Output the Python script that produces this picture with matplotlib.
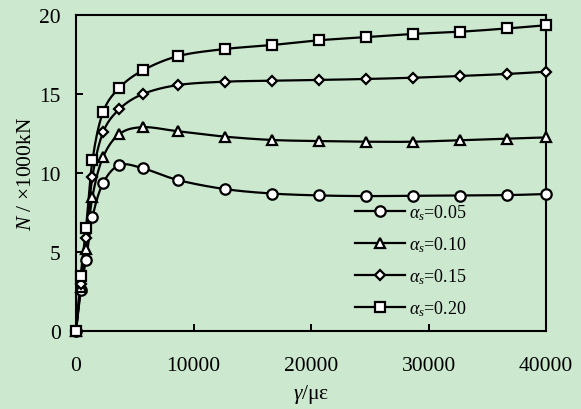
import numpy as np
import matplotlib
matplotlib.use("Agg")
import matplotlib.pyplot as plt

plt.rcParams['font.family'] = ['Liberation Serif', 'DejaVu Serif']
plt.rcParams['mathtext.fontset'] = 'custom'
plt.rcParams['mathtext.rm'] = 'Liberation Serif'
plt.rcParams['mathtext.it'] = 'Liberation Serif:italic'

# 应变 (με)
strain = [0, 400, 850, 1400, 2300, 3700, 5700, 8700, 12700, 16700,
          20700, 24700, 28700, 32700, 36700, 40000]

# 轴力 N (×1000kN)
n_005 = [0, 2.6, 4.5, 7.2, 9.35, 10.5, 10.3, 9.55, 8.98, 8.7,
         8.58, 8.54, 8.56, 8.57, 8.6, 8.67]
n_010 = [0, 2.8, 5.2, 8.5, 11.0, 12.47, 12.9, 12.64, 12.3, 12.09,
         12.02, 11.98, 11.98, 12.08, 12.18, 12.25]
n_015 = [0, 3.0, 5.9, 9.77, 12.57, 14.05, 15.0, 15.57, 15.78, 15.84,
         15.89, 15.95, 16.03, 16.14, 16.27, 16.41]
n_020 = [0, 3.5, 6.5, 10.8, 13.85, 15.4, 16.5, 17.4, 17.85, 18.1,
         18.4, 18.6, 18.8, 18.94, 19.15, 19.35]

labels = [r'$\alpha_s$=0.05', r'$\alpha_s$=0.10', r'$\alpha_s$=0.15', r'$\alpha_s$=0.20']
markers = ['o', '^', 'D', 's']
msizes = [7.5, 7.5, 5.5, 7.5]


def smooth(x, y, xr=40000.0, yr=20.0, n=30):
    # 平滑曲线 (Catmull-Rom), 在归一化坐标里计算
    u = np.asarray(x, float) / xr * 470
    v = np.asarray(y, float) / yr * 316
    p = np.column_stack([u, v])
    p = np.vstack([p[0], p, p[-1]])
    out = []
    t = np.linspace(0, 1, n)[:, None]
    for i in range(1, len(p) - 2):
        p0, p1, p2, p3 = p[i - 1], p[i], p[i + 1], p[i + 2]
        c1 = p1 + (p2 - p0) / 6
        c2 = p2 - (p3 - p1) / 6
        seg = ((1 - t) ** 3 * p1 + 3 * (1 - t) ** 2 * t * c1
               + 3 * (1 - t) * t ** 2 * c2 + t ** 3 * p2)
        out.append(seg)
    out = np.vstack(out)
    return out[:, 0] * xr / 470, out[:, 1] * yr / 316


fig = plt.figure(figsize=(5.81, 4.10), dpi=100)
fig.patch.set_facecolor('#cce8cf')
ax = fig.add_axes([0.1308, 0.1902, 0.809, 0.7708])
ax.set_facecolor('#cce8cf')

for ys, lab, mk, ms in zip([n_005, n_010, n_015, n_020], labels, markers, msizes):
    sx, sy = smooth(strain, ys)
    ax.plot(sx, sy, color='black', lw=1.6, zorder=2, clip_on=False)
    ax.plot(strain, ys, linestyle='none', marker=mk, ms=ms, mfc='white',
            mec='black', mew=1.6, zorder=3, clip_on=False)
    ax.plot([], [], color='black', lw=1.6, marker=mk, ms=ms, mfc='white',
            mec='black', mew=1.6, label=lab)

ax.set_xlim(0, 40000)
ax.set_ylim(0, 20)
ax.set_xticks([0, 10000, 20000, 30000, 40000])
ax.set_yticks([0, 5, 10, 15, 20])
ax.tick_params(direction='in', length=5, width=1.4, labelsize=15.5)
ax.tick_params(axis='x', pad=18)
ax.tick_params(axis='y', pad=11)
for s in ax.spines.values():
    s.set_linewidth(1.5)

ax.set_xlabel(r'$\gamma$/με', fontsize=15.5, labelpad=5)
ax.set_ylabel(r'$N$ / ×1000kN', fontsize=15.5, labelpad=2)

ax.legend(loc='lower left', bbox_to_anchor=(0.574, 0.013), frameon=False,
          fontsize=13, handlelength=2.8, handletextpad=0.2,
          labelspacing=0.68, borderpad=0)

fig.savefig('out.png', dpi=100, facecolor=fig.get_facecolor())
